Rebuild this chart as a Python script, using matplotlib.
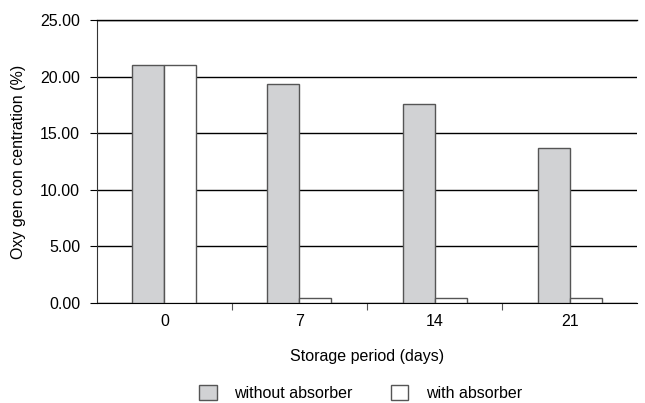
import numpy as np
import matplotlib
matplotlib.use('Agg')
import matplotlib.pyplot as plt
from matplotlib.ticker import FixedLocator, NullFormatter

plt.rcParams['font.family'] = ['Liberation Sans', 'DejaVu Sans']
plt.rcParams['font.size'] = 11.5

# data
days = ['0', '7', '14', '21']
without_absorber = [21.0, 19.4, 17.6, 13.7]
with_absorber = [21.0, 0.45, 0.45, 0.45]

fig = plt.figure(figsize=(6.45, 4.03), dpi=100)
ax = fig.add_axes([0.150, 0.248, 0.838, 0.702])

x = np.arange(len(days))
w = 0.237
ax.bar(x - w / 2, without_absorber, w, color='#d1d2d4', edgecolor='#555555',
       linewidth=1.0, label='without absorber', zorder=3)
ax.bar(x + w / 2, with_absorber, w, color='white', edgecolor='#555555',
       linewidth=1.0, label='with absorber', zorder=3)

ax.set_xlim(-0.5, len(days) - 0.5)
ax.set_ylim(0, 25)
ax.set_yticks(np.arange(0, 25.01, 5))
ax.set_yticklabels([f'{v:.2f}' for v in np.arange(0, 25.01, 5)])
ax.yaxis.grid(True, color='black', linewidth=1.0, zorder=0)
ax.set_axisbelow(True)

ax.set_xticks(x)
ax.set_xticklabels(days)
ax.tick_params(axis='x', which='major', length=0, pad=8)
ax.xaxis.set_minor_locator(FixedLocator(x[:-1] + 0.5))
ax.xaxis.set_minor_formatter(NullFormatter())
ax.tick_params(axis='x', which='minor', length=5, width=0.8, color='#555555')
ax.tick_params(axis='y', length=5, width=0.8, pad=7)

ax.spines['right'].set_visible(False)
ax.spines['top'].set_linewidth(1.0)
ax.spines['left'].set_color('#333333')
ax.spines['bottom'].set_color('black')

ax.set_xlabel('Storage period (days)', labelpad=14)
ax.set_ylabel('Oxy gen con centration (%)', labelpad=10)

fig.legend(loc='center', bbox_to_anchor=(0.559, 0.025), ncol=2, frameon=False,
           handlelength=1.1, handleheight=1.1, columnspacing=2.4, handletextpad=1.1)

fig.savefig('out.png', dpi=100)
